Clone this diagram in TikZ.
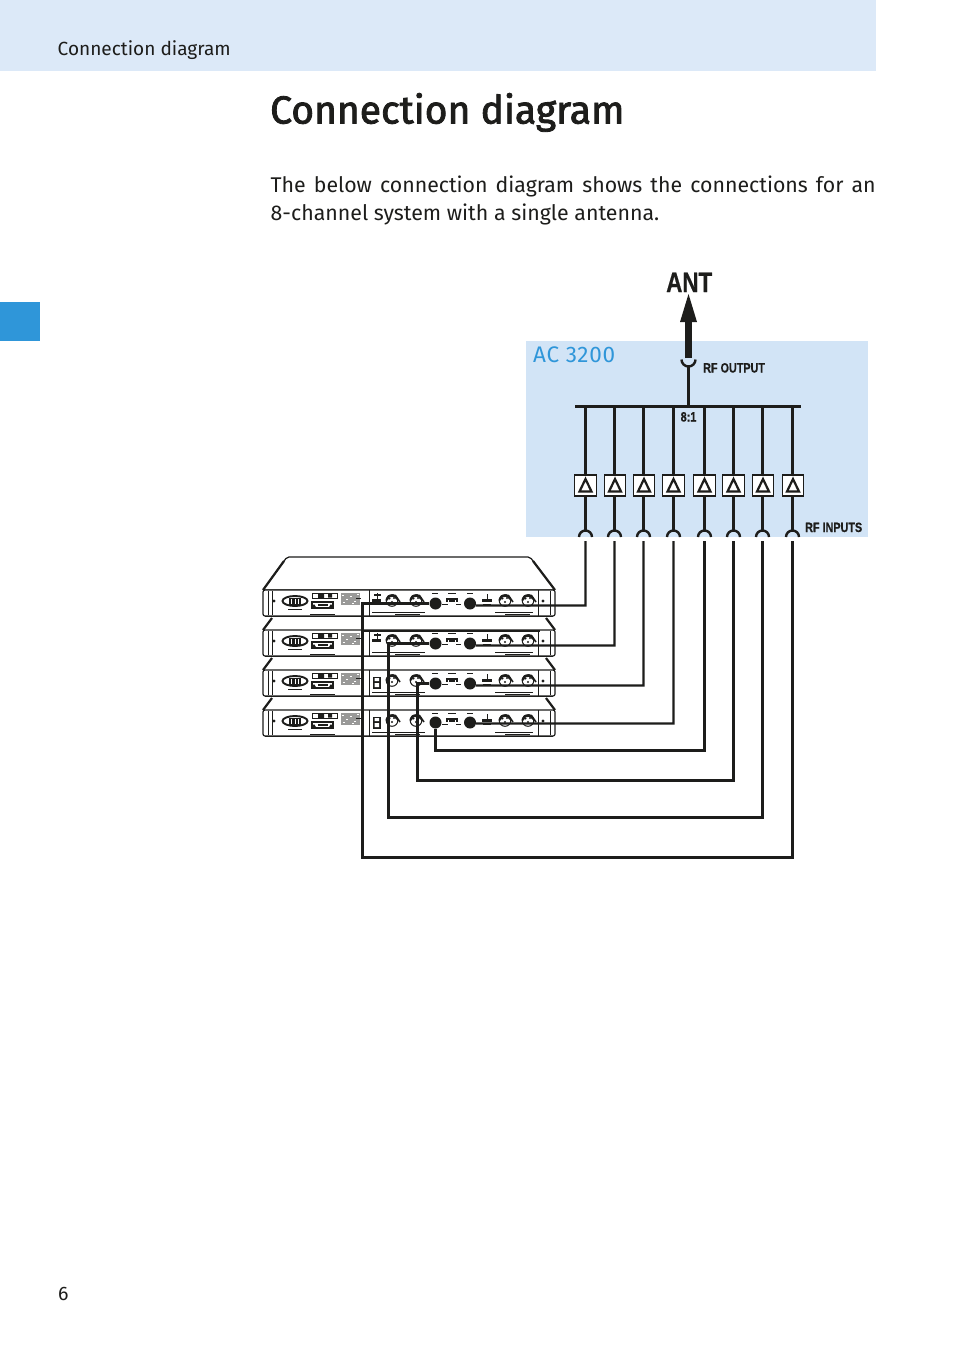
\documentclass[tikz,border=0pt]{standalone}
\usepackage{fontspec}
\setmainfont{Fira Sans}
\newfontfamily\titlefont[FakeBold=2.2]{Fira Sans}
\newfontfamily\labelfont[FakeStretch=0.8,FakeBold=0.5,UprightFont=*-Bold]{Liberation Sans}
\newfontfamily\accentfont[LetterSpace=3]{Fira Sans}
\usetikzlibrary{calc}
\definecolor{headblue}{HTML}{DCE9F8}
\definecolor{boxblue}{HTML}{D2E4F6}
\definecolor{accent}{HTML}{2F96D9}
\definecolor{ink}{HTML}{1D1D1B}
\tikzset{
  x=1pt,y=-1pt,
  wire/.style={draw=ink,line width=2.4pt},
  cup/.style={draw=ink,line width=2.4pt},
  ampbox/.style={draw=ink,fill=white,line width=1.1pt,minimum width=21.5pt,minimum height=21pt,inner sep=0pt},
  tiny/.style={draw=ink,line width=1.1pt},
  jack/.style={circle,fill=ink,minimum size=12pt,inner sep=0pt},
  heading/.style={anchor=base west,inner sep=0pt,text=ink},
  hwlabel/.style={anchor=base west,inner sep=0pt,text=ink,font=\labelfont\fontsize{13.5}{14}\selectfont},
}
\newcommand{\xlr}[2]{% x, y
  \draw[ink,line width=1pt] (#1,#2+3.5) circle(5.8);
  \draw[ink,line width=2.4pt] (#1-5.5,#2+3) arc[start angle=190,end angle=340,x radius=5.6,y radius=5.6];
  \draw[ink,line width=1.6pt] (#1+3,#2-2) -- (#1+8,#2+5);
  \fill[ink] (#1-2.5,#2+1.5) circle(1.2) (#1+2,#2+1) circle(1.2) (#1,#2+5) circle(1.2);
}
\newcommand{\rackunit}[2]{% top y, 1 = upper style
\begin{scope}[shift={(0,#1)}]
  \draw[ink,line width=1.2pt,fill=white,rounded corners=2pt] (263,0) rectangle (555,26);
  \draw[ink,line width=1.8pt] (265,26.5) -- (553,26.5);
  \draw[tiny] (268.5,1) -- (268.5,25) (272.5,1) -- (272.5,25) (369.5,0) -- (369.5,26) (538.5,0) -- (538.5,26) (550.5,1) -- (550.5,25);
  \fill[ink] (274,11) circle(1.7) (543,11) circle(1.7);
  % mains socket
  \draw[ink,line width=1.9pt,fill=white] (295,11) ellipse[x radius=12.5,y radius=5];
  \fill[ink] (289,7.5) rectangle (301,14.5);
  \foreach \q in {291,294.5,298}{\fill[white] (\q,8.5) rectangle (\q+1.2,13.5);}
  \draw[ink,line width=0.6pt] (288,19) -- (302,19);
  % rating plates
  \draw[ink,line width=1pt] (312,3) rectangle (337,8);
  \fill[ink] (318,3) rectangle (324,8) (328,3.5) rectangle (332,7.5);
  \draw[ink,line width=1.2pt] (312,12) rectangle (333,18);
  \fill[ink] (318,14) rectangle (328,16);
  \fill[ink] (314,14) -- (316,17) -- (312,17) -- cycle (331,14) -- (333,17) -- (329,17) -- cycle;
  % label block
  \fill[ink!45] (341,3) rectangle (360,15);
  \foreach \q/\r in {342/5,346/9,350/6,354/11,357/4,343/12,352/13}{\fill[white] (\q,\r) rectangle (\q+2.4,\r+1.2);}
  \draw[ink,line width=0.7pt] (356,8) -- (361,8);
  % left inputs
  \ifnum#2=1
    \draw[ink,line width=1.2pt] (374,5) -- (381,5) (377.5,3) -- (377.5,9);
    \fill[ink] (372,9) rectangle (381,12);
  \else
    \fill[ink] (372.5,6.5) rectangle (381,18.5);
    \fill[white] (374.5,8) rectangle (379,11) (374.5,13) rectangle (379,17);
  \fi
  \xlr{392}{7}\xlr{416}{7}
  % centre
  \draw[tiny] (447,12) -- (447,9) -- (457,9) -- (457,12);
  \fill[ink] (449,8) rectangle (455,12);
  \draw[ink,line width=.7pt] (442,14) -- (448,14) (456,14) -- (461,14) (448,3.5) -- (456,3.5) (432,3) -- (438,3) (467,3) -- (473,3);
  \fill[ink] (482,9) rectangle (492,12);
  \draw[ink,line width=1pt] (487,4) -- (487,9) (483,14) -- (491,14);
  \xlr{505}{7}\xlr{528}{7}
  % tiny print
  \draw[ink,line width=.8pt] (372,22) -- (425,22) (495,22) -- (533,22);
  \draw[ink,line width=.6pt] (310,24) -- (335,24) (395,24.5) -- (420,24.5) (505,24.5) -- (530,24.5);
\end{scope}
}
\begin{document}
\begin{tikzpicture}
\useasboundingbox (0,0) rectangle (954,1352);
\fill[white] (0,0) rectangle (954,1352);
% page furniture
\fill[headblue] (0,0) rectangle (876,71);
\fill[accent] (0,302) rectangle (40,341);
\node[heading,font=\fontsize{19.05}{24}\selectfont] (headtxt) at (57.5,55) {Connection diagram};
\node[heading,font=\titlefont\fontsize{39}{46}\selectfont] (title) at (270,123.5) {Connection diagram};
\node[heading,font=\fontsize{21.3}{28}\selectfont] (body1) at (270.5,192) {\makebox[605pt][s]{The below connection diagram shows the connections for an}};
\node[heading,font=\fontsize{21.35}{28}\selectfont] (body2) at (270.5,220) {8-channel system with a single antenna.};
\node[heading,font=\fontsize{19.5}{24}\selectfont] (pageno) at (58,1300) {6};
% AC 3200 panel
\fill[boxblue] (526,341) rectangle (868,537);
\node[heading,text=accent,font=\accentfont\fontsize{22.5}{26}\selectfont] (ac) at (533,362.5) {AC 3200};
\node[heading,font=\labelfont\fontsize{28}{30}\selectfont] (ant) at (666,292) {ANT};
\node[hwlabel] (rfout) at (703,372.5) {RF OUTPUT};
\node[hwlabel] (rfin) at (805,532) {RF INPUTS};
\node[hwlabel] (ratio) at (680.5,421.5) {8:1};
% racks
\fill[white,draw=ink,line width=1.2pt,rounded corners=2pt] (263,590) -- (287,557) -- (530,557) -- (555,590) -- cycle;
\draw[ink,line width=2.2pt] (263,590) -- (284,561) (555,590) -- (533,561);
\foreach \ty in {630,670,710}{
  \draw[ink,line width=2.2pt] (263,\ty) -- (272,\ty-12);
  \draw[ink,line width=2.2pt] (555,\ty) -- (546,\ty-12);
}
\rackunit{590}{1}
\rackunit{630}{1}
\rackunit{670}{0}
\rackunit{710}{0}
\draw[ink,line width=2pt] (362,630.5) -- (540,630.5);
% jacks
\foreach \n/\yy in {1/603.5,2/643.5,3/683.5,4/722.5}{
  \node[jack] (jl\n) at (435.5,\yy) {};
  \node[jack] (jr\n) at (470,\yy) {};
}
% output
\coordinate (feed) at (688.5,367);
\coordinate (arrowbase) at (688.5,322);
\coordinate (arrowtip) at (688.5,294);
\coordinate (shaftend) at (688.5,358);
\fill[ink] (arrowtip) -- ++(8.5,28) -- ++(-17,0) -- cycle;
\draw[ink,line width=7pt] (shaftend) -- (arrowbase);
\draw[cup] (681.5,359.5) arc[start angle=180,end angle=360,radius=7,y radius=-7];
\coordinate (busL) at (575,406.5);
\coordinate (busR) at (801,406.5);
\coordinate (busT) at (688.5,406.5);
\draw[wire] (busL) -- (busR);
\draw[wire] (feed) -- (busT);
% channel strips
\foreach \n/\cx/\lx in {1/585.5/585.5,2/615/614.5,3/644/643.5,4/673.5/673.5,5/704.5/704.5,6/733.5/733.5,7/763/762.5,8/793/792.5}{
  \node[ampbox] (amp\n) at (\cx,485.5) {};
  \coordinate (in\n) at (\lx,541);
  \coordinate (cap\n) at (\lx,530);
  \coordinate (top\n) at (\lx,406.5);
  \draw[wire] (top\n) -- (amp\n.north -| top\n);
  \draw[wire] (amp\n.south -| cap\n) -- (cap\n);
  \draw[ink,line width=2.2pt,line join=miter] (\cx,479) -- (\cx+6,491.5) -- (\cx-6,491.5) -- cycle;
  \draw[cup] (\lx-6.5,537) arc[start angle=180,end angle=360,x radius=6.5,y radius=6.5];
}
% wiring
\coordinate (c1) at (362.5,857.5);
\coordinate (c2) at (388.5,817.5);
\coordinate (c3) at (417.5,780.5);
\coordinate (c4) at (435.5,750.5);
\draw[wire] (in1) |- (jr1.east |- 0,605.5) -- (jr1);
\draw[wire] (in2) |- (jr2.east |- 0,645.5) -- (jr2);
\draw[wire] (in3) |- (jr3.east |- 0,685.5) -- (jr3);
\draw[wire] (in4) |- (jr4.east |- 0,723.5) -- (jr4);
\draw[wire] (jl1) -| (c1) -| (in8);
\draw[wire] (jl2) -| (c2) -| (in7);
\draw[wire] (jl3) -| (c3) -| (in6);
\draw[wire] (jl4) |- (c4) -| (in5);
\end{tikzpicture}
\end{document}
